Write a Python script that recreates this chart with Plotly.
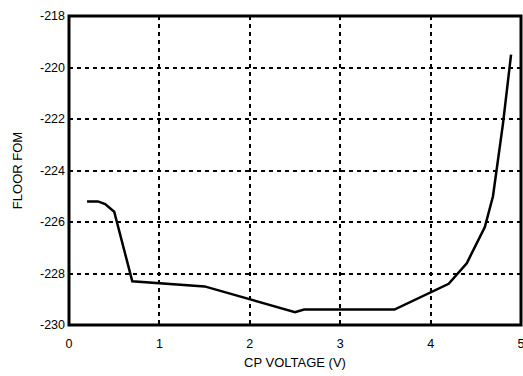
import plotly.graph_objects as go

# CP voltage sweep and the resulting floor figure of merit
cp_voltage = [0.2, 0.32, 0.4, 0.5, 0.7, 1.5, 2.5, 2.6, 3.6, 4.2, 4.4, 4.6, 4.69, 4.8, 4.89]
floor_fom = [-225.2, -225.2, -225.3, -225.6, -228.3, -228.5, -229.5, -229.4, -229.4,
             -228.4, -227.6, -226.2, -225.0, -222.2, -219.5]

x_ticks = [0, 1, 2, 3, 4, 5]
y_ticks = [-218, -220, -222, -224, -226, -228, -230]
y_tick_text = ["-218", "-220", "-222", "-224", "-226", "-228", "-230"]

fig = go.Figure()
fig.add_trace(go.Scatter(
    x=cp_voltage, y=floor_fom, mode="lines",
    line=dict(color="black", width=2.5),
    showlegend=False,
))

# heavy rectangular frame around the plotting area
fig.add_shape(type="rect", xref="paper", yref="paper", x0=0, x1=1, y0=0, y1=1,
              line=dict(color="black", width=3), layer="above")

tick_font = dict(family="Liberation Sans, Arial, sans-serif", size=12.5, color="black")
title_font = dict(family="Liberation Sans, Arial, sans-serif", size=13, color="black")

fig.update_layout(
    width=523, height=376,
    margin=dict(l=69, r=2, t=16, b=51, autoexpand=False),
    paper_bgcolor="white", plot_bgcolor="white",
    font=tick_font,
    xaxis=dict(
        range=[0, 5], tickvals=x_ticks, ticks="", ticklabelstandoff=9,
        ticklabeloverflow="allow", tickfont=tick_font, automargin=False,
        showgrid=True, gridcolor="black", gridwidth=2, griddash="4px,4px",
        showline=False, zeroline=False,
        title=dict(text="CP VOLTAGE (V)", standoff=8, font=title_font),
    ),
    yaxis=dict(
        range=[-230, -218], tickvals=y_ticks, ticktext=y_tick_text, ticks="",
        ticklabelstandoff=3, tickfont=tick_font, automargin=False,
        showgrid=True, gridcolor="black", gridwidth=2, griddash="4px,4px",
        showline=False, zeroline=False,
        title=dict(text="FLOOR FOM", standoff=14, font=title_font),
    ),
)

fig.write_html("out.html")
